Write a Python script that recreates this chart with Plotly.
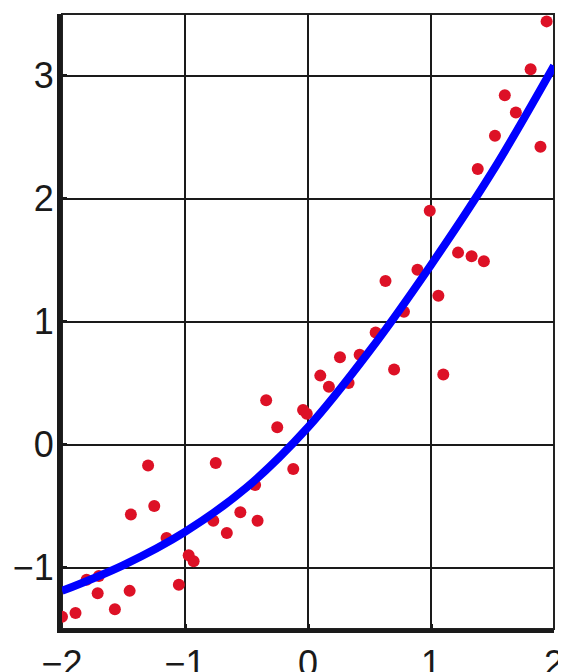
import plotly.graph_objects as go

# Scatter data
pts_x = [-2.00, -1.89, -1.80, -1.71, -1.70, -1.57, -1.45, -1.44, -1.30, -1.25,
         -1.15, -1.05, -0.97, -0.93, -0.77, -0.75, -0.66, -0.55, -0.43, -0.41,
         -0.34, -0.25, -0.12, -0.04, -0.01, 0.10, 0.17, 0.26, 0.33, 0.42,
         0.55, 0.63, 0.70, 0.78, 0.89, 0.99, 1.06, 1.10, 1.22, 1.33,
         1.43, 1.38, 1.52, 1.60, 1.69, 1.81, 1.89, 1.94]
pts_y = [-1.40, -1.37, -1.10, -1.21, -1.07, -1.34, -1.19, -0.57, -0.17, -0.50,
         -0.76, -1.14, -0.90, -0.95, -0.62, -0.15, -0.72, -0.55, -0.33, -0.62,
         0.36, 0.14, -0.20, 0.28, 0.25, 0.56, 0.47, 0.71, 0.50, 0.73,
         0.91, 1.33, 0.61, 1.08, 1.42, 1.90, 1.21, 0.57, 1.56, 1.53,
         1.49, 2.24, 2.51, 2.84, 2.70, 3.05, 2.42, 3.44]

# Fitted curve
curve_x = [-2.0, -1.5, -1.0, -0.5, 0.0, 0.5, 1.0, 1.5, 2.0]
curve_y = [-1.19, -0.98, -0.71, -0.35, 0.14, 0.76, 1.46, 2.22, 3.08]

x_ticks = [-2, -1, 0, 1, 2]
y_ticks = [-1, 0, 1, 2, 3]

fig = go.Figure()
fig.add_trace(go.Scatter(x=pts_x, y=pts_y, mode="markers",
                         marker=dict(color="#dd1126", size=12, line=dict(width=0)),
                         showlegend=False))
fig.add_trace(go.Scatter(x=curve_x, y=curve_y, mode="lines",
                         line=dict(color="#0000ff", width=8, shape="spline", smoothing=1.0),
                         showlegend=False))

fig.add_shape(type="rect", xref="paper", yref="paper", x0=0, y0=0, x1=1, y1=1,
              line=dict(color="#222222", width=2), layer="below")

fig.update_layout(
    width=558, height=664,
    margin=dict(l=54, r=12, t=6, b=43),
    paper_bgcolor="white", plot_bgcolor="white",
    font=dict(family="Liberation Sans, Arial, sans-serif", size=36, color="#1a1a1a"),
    xaxis=dict(range=[-2, 2], tickvals=x_ticks, showgrid=True, gridcolor="#1a1a1a",
               gridwidth=2, zeroline=False, showline=True, linecolor="#1a1a1a",
               linewidth=4, ticks="inside", ticklen=5, tickwidth=3, tickcolor="#1a1a1a",
               ticklabelstandoff=0, automargin=False),
    yaxis=dict(range=[-1.5, 3.5], tickvals=y_ticks, showgrid=True, gridcolor="#1a1a1a",
               gridwidth=2, zeroline=False, showline=True, linecolor="#1a1a1a",
               linewidth=5, ticks="inside", ticklen=5, tickwidth=3, tickcolor="#1a1a1a",
               ticklabelstandoff=-4, automargin=False),
)

fig.write_html("out.html")
